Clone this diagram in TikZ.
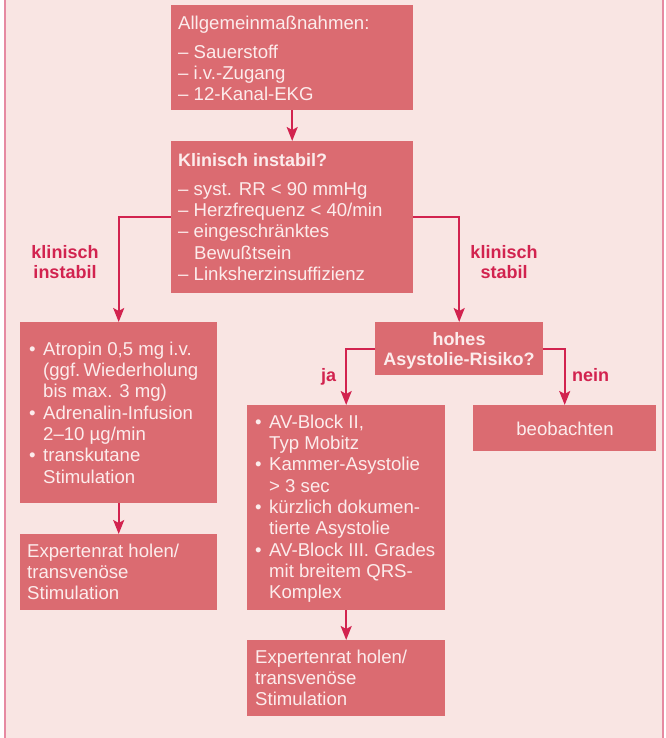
\documentclass[tikz,border=0pt]{standalone}
\usepackage{fontspec}
\setmainfont{Liberation Sans}
\usetikzlibrary{arrows.meta}
\definecolor{bgc}{HTML}{F9E5E3}
\definecolor{boxc}{HTML}{DB6B71}
\definecolor{txtc}{HTML}{FCECEC}
\definecolor{arrc}{HTML}{D2234F}
\definecolor{framec}{HTML}{E68AA2}
\newcommand\bul{\makebox[14pt][l]{•}}
\newcommand\ind{\hspace*{14pt}}
\newcommand\dind{\hspace*{16pt}}
\tikzset{
  box/.style={fill=boxc, draw=none, inner sep=0pt, anchor=north west},
  txt/.style={anchor=north west, inner sep=0pt, align=left, text=txtc, font=\fontsize{18.6}{21.3}\selectfont},
  ctxt/.style={anchor=north, inner sep=0pt, align=center, text=txtc, font=\bfseries\fontsize{18}{20}\selectfont},
  arr/.style={draw=arrc, line width=2pt, -{Stealth[length=14pt,width=11pt,inset=3pt]}},
  lab/.style={anchor=north, inner sep=0pt, align=center, text=arrc, font=\bfseries\fontsize{18}{20}\selectfont},
  blab/.style={anchor=base west, inner sep=0pt, text=arrc, font=\bfseries\fontsize{18}{20}\selectfont}
}
\begin{document}
\begin{tikzpicture}[x=1pt,y=-1pt]
\useasboundingbox (0,0) rectangle (665,738);
\fill[white] (0,0) rectangle (665,738);
\fill[bgc] (5,0) rectangle (663,738);
\draw[framec, line width=2pt] (5,0) -- (5,738);
\draw[framec, line width=2pt] (662.5,0) -- (662.5,738);

% boxes
\node[box, minimum width=242pt, minimum height=105pt] (b1) at (171,5) {};
\node[box, minimum width=242pt, minimum height=152pt] (b2) at (171,141) {};
\node[box, minimum width=197pt, minimum height=181pt] (b3) at (20,322) {};
\node[box, minimum width=168pt, minimum height=53pt] (b4) at (375,322) {};
\node[box, minimum width=197pt, minimum height=76pt] (b5) at (20,534) {};
\node[box, minimum width=198pt, minimum height=205pt] (b6) at (247,405) {};
\node[box, minimum width=183pt, minimum height=46pt] (b7) at (473,405) {};
\node[box, minimum width=198pt, minimum height=76pt] (b8) at (247,640) {};

% texts
\node[txt] (t1) at (178,14.1) {\strut Allgemeinmaßnahmen:\\[7.5pt]
  – Sauerstoff\\ – i.v.-Zugang\\ – 12-Kanal-EKG};
\node[txt] (t2) at (178,151.1) {\strut{\bfseries\fontsize{18}{21.3}\selectfont Klinisch instabil?}\\[7.7pt]
  – syst. RR < 90 mmHg\\ – Herzfrequenz < 40/min\\ – eingeschränktes\\
  \dind Bewußtsein\\ – Linksherzinsuffizienz};
\node[txt] (t3) at (29,340.1) {\strut\bul Atropin 0,5 mg i.v.\\ \ind(ggf.\,Wiederholung\\
  \ind bis max. 3 mg)\\ \bul Adrenalin-Infusion\\ \ind 2–10 µg/min\\
  \bul transkutane\\ \ind Stimulation};
\node[txt] (t5) at (27,542.1) {\strut Expertenrat holen/\\ transvenöse\\ Stimulation};
\node[txt] (t6) at (255,413.1) {\strut\bul AV-Block II,\\ \ind Typ Mobitz\\
  \bul Kammer-Asystolie\\ \ind > 3 sec\\ \bul kürzlich dokumen-\\
  \ind tierte Asystolie\\ \bul AV-Block III. Grades\\ \ind mit breitem QRS-\\ \ind Komplex};
\node[txt] (t8) at (255,648.1) {\strut Expertenrat holen/\\ transvenöse\\ Stimulation};
\node[ctxt] (t4) at (459,331) {\strut hohes\\ Asystolie-Risiko?};
\node[txt, anchor=base] (t7) at (565,435) {beobachten};

% labels
\node[lab] (l1) at (65,244) {\strut klinisch\\ instabil};
\node[lab] (l2) at (504,244) {\strut klinisch\\ stabil};
\node[blab] (l3) at (321,381) {ja};
\node[blab] (l4) at (572,381) {nein};

% connectors
\draw[arr] (b1.south) -- (b2.north);
\draw[arr] (b2.west) -| (b3.north);
\draw[arr] (b2.east) -| (b4.north);
\draw[arr] (b3.south) -- (b5.north);
\draw[arr] (b4.west) -| (b6.north);
\draw[arr] (b4.east) -| (b7.north);
\draw[arr] (b6.south) -- (b8.north);
\end{tikzpicture}
\end{document}
